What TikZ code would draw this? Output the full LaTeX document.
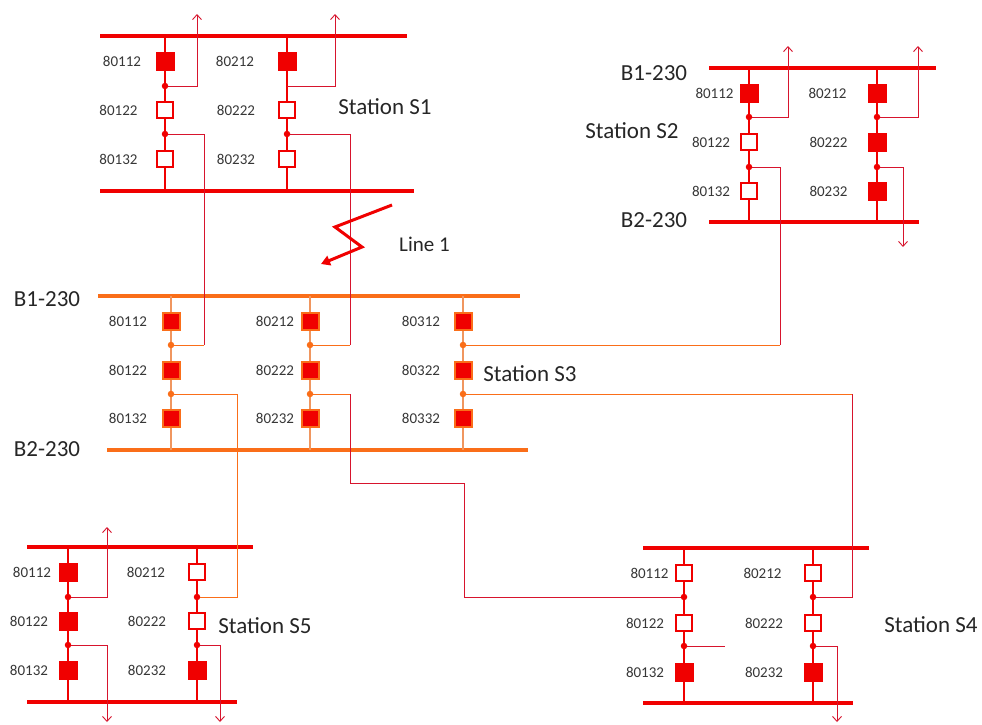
\documentclass[tikz,border=0pt]{standalone}
\usepackage{fontspec}
\setmainfont{Carlito}
\usetikzlibrary{arrows.meta}
\definecolor{pr}{RGB}{240,0,0}
\definecolor{po}{RGB}{250,110,25}
\definecolor{pol}{RGB}{240,150,95}
\definecolor{pw}{RGB}{215,20,45}
\definecolor{txt}{RGB}{55,55,55}
\begin{document}
\begin{tikzpicture}[x=1pt,y=-1pt,
 bus/.style={line width=4pt,pr},
 busor/.style={line width=4pt,po},
 bfill/.style={rectangle,draw=pr,fill=pr,line width=0.8pt,minimum size=18pt,inner sep=0pt},
 bopen/.style={rectangle,draw=pr,fill=white,line width=2.4pt,minimum size=16.5pt,inner sep=0pt},
 borng/.style={rectangle,draw=po,fill=pr,line width=2pt,minimum size=17pt,inner sep=0pt},
 jdot/.style={circle,fill=pr,inner sep=0pt,minimum size=6.5pt},
 jdoto/.style={circle,fill=po,inner sep=0pt,minimum size=6.5pt},
 bayr/.style={pr,line width=1.2pt},
 bayo/.style={pol,line width=1.3pt},
 wire/.style={pw,line width=0.9pt},
 wireo/.style={po,line width=0.9pt},
 arr/.style={-{Straight Barb[length=5pt,width=9pt]}},
 lbl/.style={text=txt,font=\fontsize{15}{18}\selectfont,inner sep=0pt},
 stn/.style={text=black!85,font=\fontsize{23}{27}\selectfont,inner sep=0pt},
]
\useasboundingbox[fill=white] (0,0) rectangle (982,724);

% ================= Station S1 =================
\draw[bus] (100,36) -- (407,36);
\draw[bus] (100,191) -- (414,191);
\coordinate (s1t1) at (165,36); \coordinate (s1b1) at (165,191);
\coordinate (s1t2) at (287,36); \coordinate (s1b2) at (287,191);
\draw[bayr] (s1t1) -- (s1b1);
\draw[bayr] (s1t2) -- (s1b2);
\node[bfill] (s1k11) at (165,61) {};
\node[bopen] (s1k12) at (165,110) {};
\node[bopen] (s1k13) at (165,159) {};
\node[jdot] (s1d11) at (165,86) {};
\node[jdot] (s1d12) at (165,134) {};
\node[bfill] (s1k21) at (287,61) {};
\node[bopen] (s1k22) at (287,110) {};
\node[bopen] (s1k23) at (287,159) {};
\coordinate (s1d21) at (287,86);
\node[jdot] (s1d22) at (287,134) {};
\node[lbl] (s1l11) at (122,61) {80112};
\node[lbl] (s1l12) at (118.5,110) {80122};
\node[lbl] (s1l13) at (118.5,159) {80132};
\node[lbl] (s1l21) at (235,61) {80212};
\node[lbl] (s1l22) at (236,110) {80222};
\node[lbl] (s1l23) at (236,159) {80232};
\node[stn] (s1n) at (385,106.5) {Station S1};
\coordinate (s1a1) at (197,14);
\coordinate (s1a2) at (335,14);
\draw[wire,arr] (s1d11) -| (s1a1);
\draw[wire,arr] (s1d21) -| (s1a2);

% ================= Station S2 =================
\draw[bus] (709,68) -- (936,68);
\draw[bus] (709,222) -- (919,222);
\coordinate (s2t1) at (749,68); \coordinate (s2b1) at (749,222);
\coordinate (s2t2) at (877,68); \coordinate (s2b2) at (877,222);
\draw[bayr] (s2t1) -- (s2b1);
\draw[bayr] (s2t2) -- (s2b2);
\node[bfill] (s2k11) at (749,93) {};
\node[bopen] (s2k12) at (749,142) {};
\node[bopen] (s2k13) at (749,191) {};
\node[jdot] (s2d11) at (749,117) {};
\node[jdot] (s2d12) at (749,167) {};
\node[bfill] (s2k21) at (877,93) {};
\node[bfill] (s2k22) at (877,142) {};
\node[bfill] (s2k23) at (877,191) {};
\node[jdot] (s2d21) at (877,117) {};
\node[jdot] (s2d22) at (877,167) {};
\node[lbl] (s2l11) at (714.5,93) {80112};
\node[lbl] (s2l12) at (711,142) {80122};
\node[lbl] (s2l13) at (711,191) {80132};
\node[lbl] (s2l21) at (827.5,93) {80212};
\node[lbl] (s2l22) at (828.5,142) {80222};
\node[lbl] (s2l23) at (828.5,191) {80232};
\node[stn] (s2bb1) at (654,73.5) {B1-230};
\node[stn] (s2bb2) at (654,220) {B2-230};
\node[stn] (s2n) at (632,131) {Station S2};
\coordinate (s2a1) at (788,46);
\coordinate (s2a2) at (918,46);
\coordinate (s2a3) at (903,247);
\draw[wire,arr] (s2d11) -| (s2a1);
\draw[wire,arr] (s2d21) -| (s2a2);
\draw[wire,arr] (s2d22) -| (s2a3);

% ================= Station S3 =================
\draw[busor] (98,296) -- (520,296);
\draw[busor] (107,450) -- (528,450);
\foreach \i/\x in {1/171,2/310,3/463}{
  \coordinate (s3t\i) at (\x,296); \coordinate (s3b\i) at (\x,450);
  \draw[bayo] (s3t\i) -- (s3b\i);
}
\node[borng] (s3k11) at (171,321) {};
\node[borng] (s3k12) at (171,370) {};
\node[borng] (s3k13) at (171,418) {};
\node[borng] (s3k21) at (310,321) {};
\node[borng] (s3k22) at (310,370) {};
\node[borng] (s3k23) at (310,418) {};
\node[borng] (s3k31) at (463,321) {};
\node[borng] (s3k32) at (463,370) {};
\node[borng] (s3k33) at (463,418) {};
\node[jdoto] (s3d11) at (171,345) {};
\node[jdoto] (s3d12) at (171,394) {};
\node[jdoto] (s3d21) at (310,345) {};
\node[jdoto] (s3d22) at (310,394) {};
\node[jdoto] (s3d31) at (463,345) {};
\node[jdoto] (s3d32) at (463,394) {};
\node[lbl] (s3l11) at (128,321) {80112};
\node[lbl] (s3l12) at (128,370) {80122};
\node[lbl] (s3l13) at (128,418) {80132};
\node[lbl] (s3l21) at (275,321) {80212};
\node[lbl] (s3l22) at (275,370) {80222};
\node[lbl] (s3l23) at (275,418) {80232};
\node[lbl] (s3l31) at (421,321) {80312};
\node[lbl] (s3l32) at (421,370) {80322};
\node[lbl] (s3l33) at (421,418) {80332};
\node[stn] (s3bb1) at (47,299) {B1-230};
\node[stn] (s3bb2) at (47,449) {B2-230};
\node[stn] (s3n) at (530,374) {Station S3};

% ================= Station S5 =================
\draw[bus] (27,547) -- (253,547);
\draw[bus] (27,702) -- (237,702);
\coordinate (s5t1) at (68,547); \coordinate (s5b1) at (68,702);
\coordinate (s5t2) at (197,547); \coordinate (s5b2) at (197,702);
\draw[bayr] (s5t1) -- (s5b1);
\draw[bayr] (s5t2) -- (s5b2);
\node[bfill] (s5k11) at (68,572) {};
\node[bfill] (s5k12) at (68,621) {};
\node[bfill] (s5k13) at (68,670) {};
\node[jdot] (s5d11) at (68,597) {};
\node[jdot] (s5d12) at (68,645) {};
\node[bopen] (s5k21) at (197,572) {};
\node[bopen] (s5k22) at (197,621) {};
\node[bfill] (s5k23) at (197,670) {};
\node[jdot] (s5d21) at (197,597) {};
\node[jdot] (s5d22) at (197,645) {};
\node[lbl] (s5l11) at (32,572) {80112};
\node[lbl] (s5l12) at (29,621) {80122};
\node[lbl] (s5l13) at (29,670) {80132};
\node[lbl] (s5l21) at (146,572) {80212};
\node[lbl] (s5l22) at (147,621) {80222};
\node[lbl] (s5l23) at (147,670) {80232};
\node[stn] (s5n) at (265,625.5) {Station S5};
\coordinate (s5a1) at (107,527);
\coordinate (s5a2) at (107,722);
\coordinate (s5a3) at (220,722);
\draw[wire,arr] (s5d11) -| (s5a1);
\draw[wire,arr] (s5d12) -| (s5a2);
\draw[wire,arr] (s5d22) -| (s5a3);

% ================= Station S4 =================
\draw[bus] (643,548) -- (869,548);
\draw[bus] (643,703) -- (853,703);
\coordinate (s4t1) at (684,548); \coordinate (s4b1) at (684,703);
\coordinate (s4t2) at (813,548); \coordinate (s4b2) at (813,703);
\draw[bayr] (s4t1) -- (s4b1);
\draw[bayr] (s4t2) -- (s4b2);
\node[bopen] (s4k11) at (684,573) {};
\node[bopen] (s4k12) at (684,623) {};
\node[bfill] (s4k13) at (684,672) {};
\node[jdot] (s4d11) at (684,597) {};
\node[jdot] (s4d12) at (684,646) {};
\node[bopen] (s4k21) at (813,573) {};
\node[bopen] (s4k22) at (813,623) {};
\node[bfill] (s4k23) at (813,672) {};
\node[jdot] (s4d21) at (813,597) {};
\node[jdot] (s4d22) at (813,646) {};
\node[lbl] (s4l11) at (649.5,573) {80112};
\node[lbl] (s4l12) at (645,623) {80122};
\node[lbl] (s4l13) at (645,672) {80132};
\node[lbl] (s4l21) at (762.5,573) {80212};
\node[lbl] (s4l22) at (764,623) {80222};
\node[lbl] (s4l23) at (764,672) {80232};
\node[stn] (s4n) at (931,625) {Station S4};
\coordinate (s4e1) at (725,646);
\coordinate (s4a1) at (837,722);
\draw[wire] (s4d12) -- (s4e1);
\draw[wire,arr] (s4d22) -| (s4a1);

% ================= Interconnections =================
\coordinate (c1) at (204,345);
\draw[wire] (s1d12) -| (c1);
\draw[wireo] (c1) -- (s3d11);
\coordinate (c2) at (350,345);
\draw[wire] (s1d22) -| (c2);
\draw[wireo] (c2) -- (s3d21);
\coordinate (c3) at (780,345);
\draw[wire] (s2d12) -| (c3);
\draw[wireo] (c3) -- (s3d31);
\coordinate (c4) at (237,597);
\draw[wireo] (s3d12) -| (c4) -- (s5d21);
\coordinate (c5) at (350,394);
\coordinate (c5b) at (464,483);
\draw[wireo] (s3d22) -- (c5);
\draw[wire] (c5) |- (c5b) |- (s4d11);
\coordinate (c6) at (852,394);
\draw[wireo] (s3d32) -- (c6);
\draw[wire] (c6) |- (s4d21);

% ================= Line 1 fault =================
\coordinate (f1) at (392,205);
\coordinate (f2) at (335,227);
\coordinate (f3) at (362,247);
\coordinate (f4) at (321,264);
\draw[pr,line width=3pt,line join=miter,-{Triangle[length=9pt,width=10pt]}] (f1) -- (f2) -- (f3) -- (f4);
\node[stn,font=\fontsize{21}{25}\selectfont] (ln) at (424.5,244.5) {Line 1};
\end{tikzpicture}
\end{document}
